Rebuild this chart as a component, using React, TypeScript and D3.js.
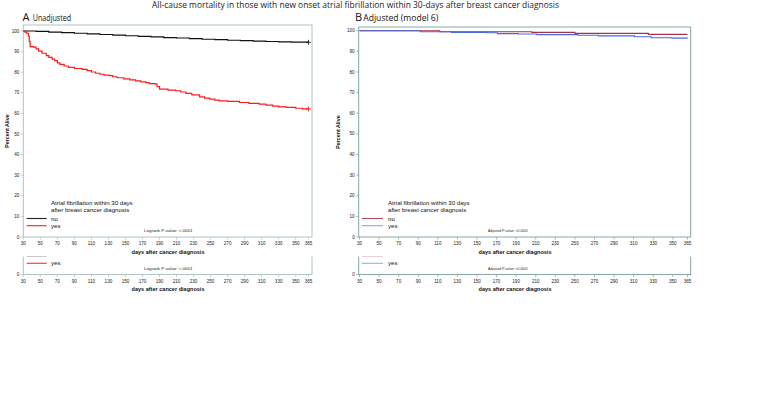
import React from 'react';
import * as d3 from 'd3';

const titleText = 'All-cause mortality in those with new onset atrial fibrillation within 30-days after breast cancer diagnosis';
const xTicks = [30, 50, 70, 90, 110, 130, 150, 170, 190, 210, 230, 250, 270, 290, 310, 330, 350, 365];
const yTicks = [0, 10, 20, 30, 40, 50, 60, 70, 80, 90, 100];
const legendTitle1 = 'Atrial fibrillation within 30 days';
const legendTitle2 = 'after breast cancer diagnosis';
const groups = ['no', 'yes'];

// Panel A (unadjusted)
const aNoDays = [30, 45, 60, 75, 90, 105, 120, 135, 150, 165, 180, 195, 210, 225, 240, 255, 270, 285, 300, 315, 330, 345, 365];
const aNoVals = [100, 99.8, 99.5, 99.2, 98.9, 98.6, 98.3, 98.0, 97.7, 97.4, 97.1, 96.8, 96.6, 96.3, 96.0, 95.8, 95.5, 95.3, 95.1, 94.9, 94.7, 94.6, 94.5];
const aYesDays = [30, 32, 34, 36, 37, 38, 42, 45, 48, 52, 57, 60, 64, 67, 70, 73, 78, 83, 90, 99, 105, 110, 115, 120, 125, 131, 135, 140, 148, 155, 162, 168, 174, 178, 184, 187, 190, 200, 209, 215, 221, 228, 237, 243, 249, 255, 260, 270, 284, 295, 307, 315, 323, 330, 339, 350, 358, 365];
const aYesVals = [100, 99.5, 98.9, 97.5, 95, 92.4, 92.2, 91.3, 90.2, 89.2, 88, 87.2, 86.3, 85.6, 84.5, 83.8, 83, 82.3, 81.8, 81.4, 80.8, 80.1, 79.5, 79, 78.6, 78.3, 77.8, 77.3, 76.8, 76.3, 75.8, 75.3, 74.9, 74.5, 74.3, 73, 71.8, 71.3, 71, 70.4, 69.7, 69, 68, 67.4, 66.9, 66.4, 66.1, 65.8, 65.3, 64.9, 64.5, 64, 63.5, 63.2, 62.9, 62.5, 62.2, 62.1];

// Panel B (adjusted, model 6)
const bNoDays = [30, 112, 206, 250, 325, 365];
const bNoVals = [100, 99.5, 99.2, 98.7, 98.2, 98.2];
const bYesDays = [30, 92, 124, 160, 171, 192, 211, 253, 274, 311, 328, 349, 365];
const bYesVals = [100, 99.5, 99.2, 99.0, 98.6, 98.4, 98.1, 97.8, 97.5, 97.1, 96.6, 96.4, 96.3];

type Series = { days: number[]; vals: number[]; color: string; legendColor: string; width: number; censor: boolean };

type PanelCfg = {
  letter: string;
  subtitle: string;
  letterX: number;
  subX: number;
  subLen: number;
  frameL: number;
  frameR: number;
  frameT: number;
  xr0: number;
  xr1: number;
  y100: number;
  y0: number;
  frameColor: string;
  series: Series[];
  legLineX0: number;
  legLineX1: number;
  legTextX: number;
  pText: string;
  pX: number;
  pLen: number;
  yLabelX: number;
  xLabelX: number;
};

const FONT = '"Liberation Sans", Arial, sans-serif';

function PanelContent({ c, copy }: { c: PanelCfg; copy: boolean }) {
  const x = d3.scaleLinear().domain([30, 365]).range([c.xr0, c.xr1]);
  const y = d3.scaleLinear().domain([0, 100]).range([c.y0, c.y100]);
  const bottom = c.y0;
  const shownY = copy ? [0] : yTicks;
  return (
    <g>
      <rect x={c.frameL} y={c.frameT} width={c.frameR - c.frameL} height={bottom - c.frameT} fill="none" stroke={c.frameColor} strokeWidth={1} />
      {shownY.map((t) => (
        <g key={'y' + t}>
          <line x1={c.frameL - 2.5} x2={c.frameL} y1={y(t)} y2={y(t)} stroke={c.frameColor} strokeWidth={0.8} />
          <text x={c.frameL - 4} y={y(t) + 1.6} fontSize={4.6} fontFamily={FONT} textAnchor="end" fill="#222">{t}</text>
        </g>
      ))}
      {xTicks.map((t) => (
        <g key={'x' + t}>
          <line x1={x(t)} x2={x(t)} y1={bottom} y2={bottom + 2.5} stroke={c.frameColor} strokeWidth={0.8} />
          <text x={x(t)} y={bottom + 8} fontSize={4.6} fontFamily={FONT} textAnchor="middle" fill="#222">{t}</text>
        </g>
      ))}
      <text x={c.xLabelX} y={bottom + 16.5} fontSize={5.6} fontWeight="bold" fontFamily={FONT} textAnchor="middle" fill="#111" textLength={73} lengthAdjust="spacingAndGlyphs">days after cancer diagnosis</text>
      {!copy && (
        <text transform={`translate(${c.yLabelX},${(c.frameT + bottom) / 2}) rotate(-90)`} fontSize={5.3} fontWeight="bold" fontFamily={FONT} textAnchor="middle" fill="#111">Percent Alive</text>
      )}
      {!copy && c.series.map((s, i) => {
        const pts: [number, number][] = s.days.map((d, j) => [x(d), y(s.vals[j])]);
        const line = d3.line().curve(d3.curveStepAfter)(pts) || '';
        const last = pts[pts.length - 1];
        return (
          <g key={'s' + i}>
            <path d={line} fill="none" stroke={s.color} strokeWidth={s.width} />
            {s.censor && (
              <g stroke={s.color} strokeWidth={0.8}>
                <line x1={last[0] - 2.5} x2={last[0] + 2.5} y1={last[1]} y2={last[1]} />
                <line x1={last[0]} x2={last[0]} y1={last[1] - 2.5} y2={last[1] + 2.5} />
              </g>
            )}
          </g>
        );
      })}
      {!copy && <text x={c.legTextX} y={205} fontSize={6.1} fontFamily={FONT} fill="#111">{legendTitle1}</text>}
      {!copy && <text x={c.legTextX} y={212.3} fontSize={6.1} fontFamily={FONT} fill="#111">{legendTitle2}</text>}
      {c.series.map((s, i) => (
        <g key={'l' + i}>
          <line x1={c.legLineX0} x2={c.legLineX1} y1={218.5 + i * 7.2} y2={218.5 + i * 7.2} stroke={s.legendColor} strokeWidth={1.1} />
          {(!copy || i > 0) && (
            <text x={c.legTextX} y={220.5 + i * 7.2} fontSize={6.1} fontFamily={FONT} fill="#111">{groups[i]}</text>
          )}
        </g>
      ))}
      <text x={c.pX} y={232.3} fontSize={4.3} fontFamily={FONT} fill="#222" textLength={c.pLen} lengthAdjust="spacingAndGlyphs">{c.pText}</text>
    </g>
  );
}

const panelA: PanelCfg = {
  letter: 'A', subtitle: 'Unadjusted', letterX: 22.5, subX: 32.7, subLen: 38.5,
  frameL: 23.3, frameR: 312, frameT: 25, xr0: 23.3, xr1: 308.5, y100: 31, y0: 237,
  frameColor: '#aec5c2',
  series: [
    { days: aNoDays, vals: aNoVals, color: '#111111', legendColor: '#222222', width: 1.2, censor: true },
    { days: aYesDays, vals: aYesVals, color: '#ff1a1a', legendColor: '#ff1a1a', width: 1.2, censor: true },
  ],
  legLineX0: 26.7, legLineX1: 46.7, legTextX: 51,
  pText: 'Logrank P-value: <.0001', pX: 144, pLen: 48.5, yLabelX: 8.5, xLabelX: 168,
};

const panelB: PanelCfg = {
  letter: 'B', subtitle: 'Adjusted (model 6)', letterX: 355, subX: 363.3, subLen: 75,
  frameL: 358.7, frameR: 690.7, frameT: 27, xr0: 359.5, xr1: 687.5, y100: 30.7, y0: 237,
  frameColor: '#86a8a4',
  series: [
    { days: bNoDays, vals: bNoVals, color: '#a83048', legendColor: '#b54a5c', width: 1.1, censor: false },
    { days: bYesDays, vals: bYesVals, color: '#4a68d8', legendColor: '#8fa4ea', width: 1.1, censor: false },
  ],
  legLineX0: 361.7, legLineX1: 383, legTextX: 388,
  pText: 'Adjusted P-value: <0.0001', pX: 488, pLen: 40, yLabelX: 340, xLabelX: 515,
};

const SHIFT = 37.5;
const STRIP_TOP = 256.5;

function Panel({ c, id }: { c: PanelCfg; id: string }) {
  return (
    <g>
      <text x={c.letterX} y={20.7} fontSize={11} fontFamily='"Open Sans", sans-serif' fill="#111">{c.letter}</text>
      <text x={c.subX} y={20.7} fontSize={9} fontFamily='"Open Sans", sans-serif' fill="#111" textLength={c.subLen} lengthAdjust="spacingAndGlyphs">{c.subtitle}</text>
      <PanelContent c={c} copy={false} />
      <g clipPath={`url(#${id})`}>
        <g transform={`translate(0,${SHIFT})`}>
          <PanelContent c={c} copy={true} />
        </g>
      </g>
    </g>
  );
}

export default function App() {
  return (
    <svg width={772} height={402} style={{ position: 'absolute', left: 0, top: 0, background: '#fff' }}>
      <defs>
        <clipPath id="stripA"><rect x={0} y={STRIP_TOP} width={340} height={60} /></clipPath>
        <clipPath id="stripB"><rect x={330} y={STRIP_TOP} width={442} height={60} /></clipPath>
      </defs>
      <rect x={0} y={0} width={772} height={402} fill="#fff" />
      <text x={355.5} y={7.6} fontSize={8.4} fontFamily='"Open Sans", sans-serif' textAnchor="middle" fill="#222" textLength={407} lengthAdjust="spacingAndGlyphs">{titleText}</text>
      <Panel c={panelA} id="stripA" />
      <Panel c={panelB} id="stripB" />
    </svg>
  );
}
